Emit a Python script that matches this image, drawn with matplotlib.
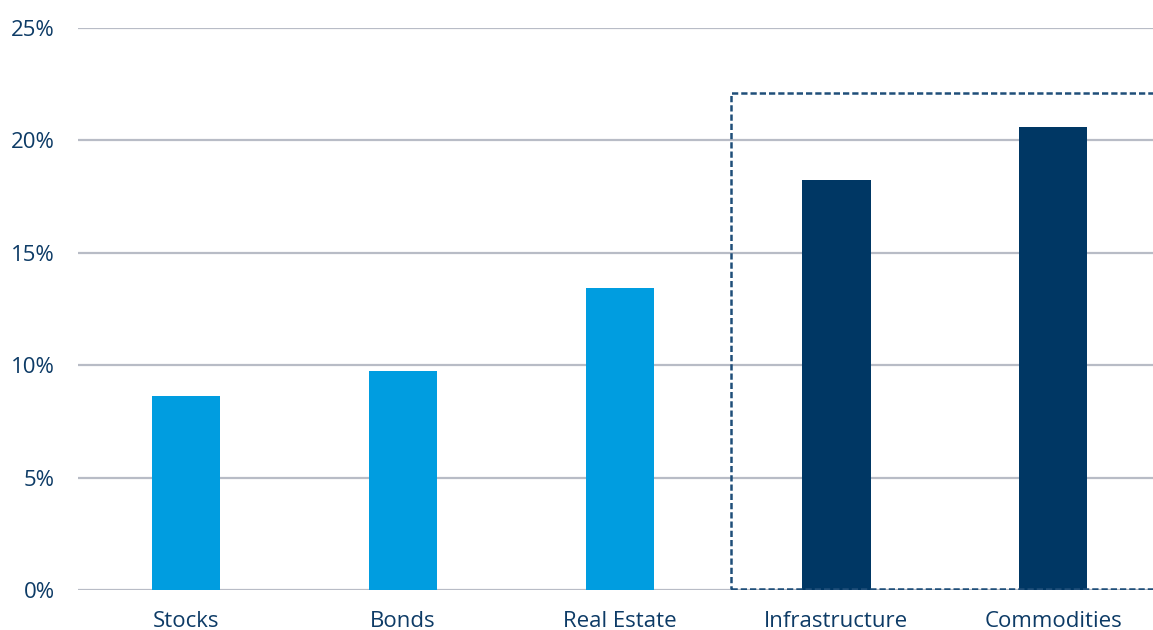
import matplotlib.pyplot as plt
from matplotlib.patches import Rectangle
from matplotlib.ticker import FuncFormatter

categories = ['Stocks', 'Bonds', 'Real Estate', 'Infrastructure', 'Commodities']
values = [8.63, 9.74, 13.43, 18.24, 20.6]
colors = ['#009de0', '#009de0', '#009de0', '#003764', '#003764']
yticks = [0, 5, 10, 15, 20, 25]

text_color = '#0d3b66'
plt.rcParams['font.family'] = ['Open Sans', 'DejaVu Sans']

fig = plt.figure(figsize=(11.53, 6.30), dpi=100)
ax = fig.add_axes([78 / 1153, 40 / 630, 1075 / 1153, 562 / 630])

x = range(len(categories))
ax.bar(x, values, width=0.315, color=colors, zorder=3)

ax.set_ylim(0, 25)
ax.set_xlim(-0.5, 4.461)
ax.set_yticks(yticks)
ax.yaxis.set_major_formatter(FuncFormatter(lambda v, p: f'{v:.0f}%'))
ax.set_xticks(list(x))
ax.set_xticklabels(categories)
ax.grid(axis='y', color='#b8bcc6', linewidth=1.6, zorder=0)
ax.tick_params(length=0, labelsize=16, labelcolor=text_color)
ax.tick_params(axis='x', pad=15)
ax.tick_params(axis='y', pad=16.5)
for s in ax.spines.values():
    s.set_visible(False)

# dashed highlight box around the last two categories
box = Rectangle((2.515, 0.05), 3.0, 22.05, fill=False, edgecolor='#1f4e79',
                linestyle=(0, (2.5, 1.2)), linewidth=1.8, zorder=4)
ax.add_patch(box)

fig.savefig('out.png', dpi=100)
